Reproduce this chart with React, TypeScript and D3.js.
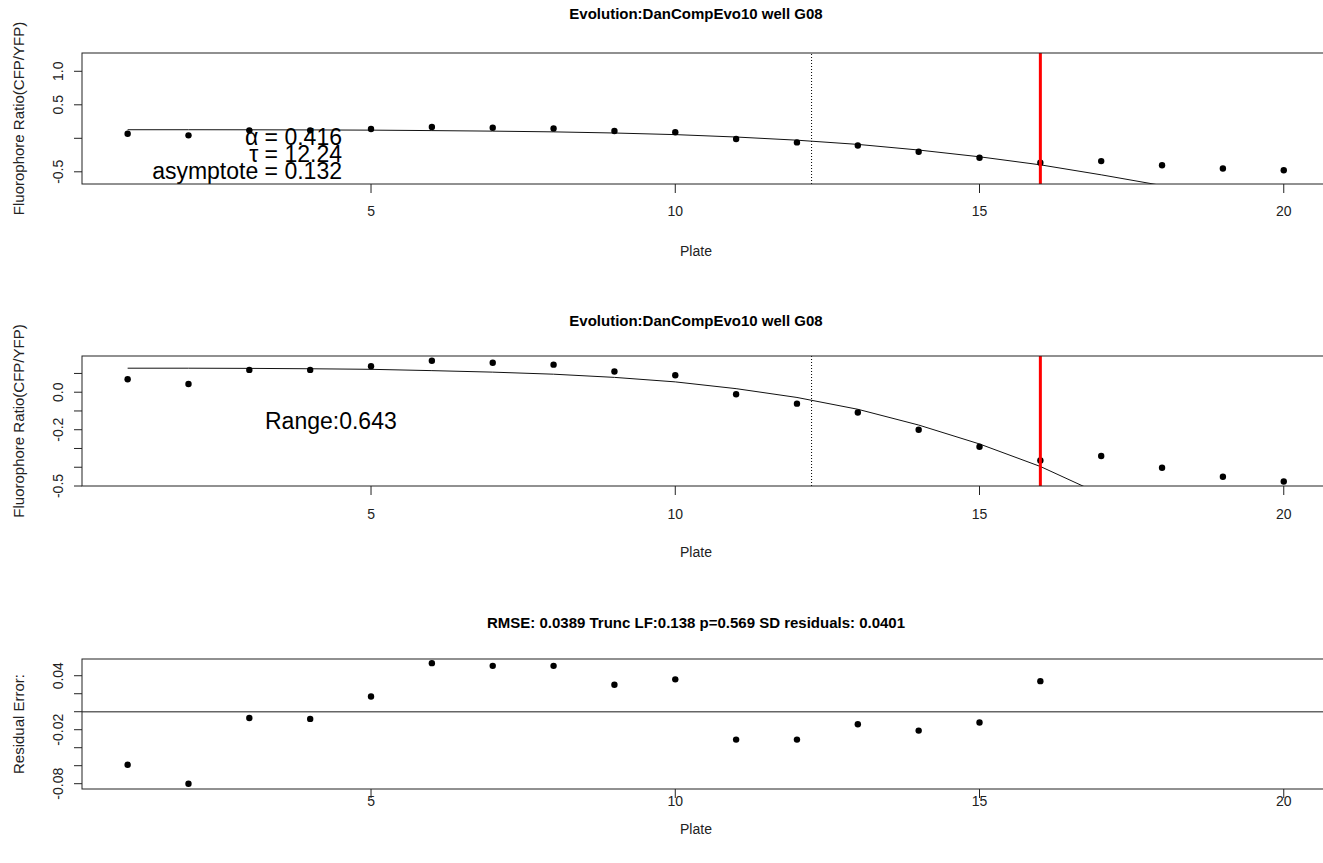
import React from 'react';
import * as d3 from 'd3';

// plate numbers and measured fluorophore ratio
const plates = [1, 2, 3, 4, 5, 6, 7, 8, 9, 10, 11, 12, 13, 14, 15, 16, 17, 18, 19, 20];
const ratio = [0.069, 0.044, 0.119, 0.119, 0.138, 0.168, 0.157, 0.147, 0.110, 0.090,
  -0.011, -0.061, -0.108, -0.200, -0.291, -0.364, -0.340, -0.403, -0.451, -0.476];

// fitted curve, read at each plate
const fitPlates = [1, 2, 3, 4, 5, 6, 7, 8, 9, 10, 11, 12, 13, 14, 15, 16, 17, 18];
const fitRatio = [0.128, 0.128, 0.127, 0.125, 0.122, 0.115, 0.107, 0.096, 0.079, 0.055,
  0.019, -0.028, -0.091, -0.175, -0.276, -0.396, -0.545, -0.705];

// residuals of the truncated fit
const residPlates = [1, 2, 3, 4, 5, 6, 7, 8, 9, 10, 11, 12, 13, 14, 15, 16];
const residuals = [-0.059, -0.080, -0.007, -0.008, 0.017, 0.054, 0.051, 0.051, 0.030, 0.036,
  -0.031, -0.031, -0.014, -0.021, -0.012, 0.034];

const xTicks = [5, 10, 15, 20];
const topTicks = [-0.5, 0, 0.5, 1.0];
const topTickLabels = ['-0.5', '', '0.5', '1.0'];
const midTicks = [0.1, 0, -0.1, -0.2, -0.3, -0.4, -0.5];
const midTickLabels = ['', '0.0', '', '-0.2', '', '', '-0.5'];
const resTicks = [0.04, 0.02, 0, -0.02, -0.04, -0.06, -0.08];
const resTickLabels = ['0.04', '', '', '-0.02', '', '', '-0.08'];

const tau = 12.24;
const truncPlate = 16;
const fitText = ['\u03b1 = 0.416', '\u03c4 = 12.24', 'asymptote = 0.132'];
const rangeText = 'Range:0.643';
const mainTitle = 'Evolution:DanCompEvo10 well G08';
const residTitle = 'RMSE: 0.0389 Trunc LF:0.138 p=0.569 SD residuals: 0.0401';
const ratioLabel = 'Fluorophore Ratio(CFP/YFP)';
const residLabel = 'Residual Error:';

const W = 1323;
const H = 863;
const font = '"Liberation Sans", Arial, sans-serif';
const x = d3.scaleLinear().domain([0.25, 20.76]).range([82, 1330]);

type PanelProps = {
  id: string;
  top: number;
  bottom: number;
  yDomain: [number, number];
  ticks: number[];
  tickLabels: string[];
  title: string;
  titleY: number;
  yLabel: string;
  tickLabelY: number;
  xLabelY: number;
  draw: (y: d3.ScaleLinear<number, number>) => React.ReactNode;
};

function Panel(p: PanelProps) {
  const { id, top, bottom, yDomain, ticks, tickLabels, title, titleY, yLabel, tickLabelY, xLabelY, draw } = p;
  const y = d3.scaleLinear().domain(yDomain).range([bottom, top]);
  const [x0, x1] = x.range();
  const midY = (top + bottom) / 2;
  return (
    <g>
      <defs>
        <clipPath id={id}>
          <rect x={x0} y={top} width={x1 - x0} height={bottom - top} />
        </clipPath>
      </defs>
      <text x={696} y={titleY} textAnchor="middle" fontSize={15} fontWeight="bold" fill="#000">{title}</text>
      <g clipPath={`url(#${id})`}>{draw(y)}</g>
      <rect x={x0} y={top} width={x1 - x0} height={bottom - top} fill="none" stroke="#222" strokeWidth={1} />
      {ticks.map((t, i) => (
        <g key={t}>
          <line x1={x0 - 8} x2={x0} y1={y(t)} y2={y(t)} stroke="#222" />
          {tickLabels[i] && (
            <text transform={`translate(63,${y(t)}) rotate(-90)`} textAnchor="middle" fontSize={14} fill="#222">
              {tickLabels[i]}
            </text>
          )}
        </g>
      ))}
      {xTicks.map(t => (
        <g key={t}>
          <line x1={x(t)} x2={x(t)} y1={bottom} y2={bottom + 9} stroke="#222" />
          <text x={x(t)} y={tickLabelY} textAnchor="middle" fontSize={14} fill="#222">{t}</text>
        </g>
      ))}
      <text x={696} y={xLabelY} textAnchor="middle" fontSize={14} fill="#222">Plate</text>
      <text transform={`translate(24,${midY}) rotate(-90)`} textAnchor="middle" fontSize={15} fill="#222">{yLabel}</text>
    </g>
  );
}

function fitAndPoints(y: d3.ScaleLinear<number, number>) {
  const line = d3.line<number>().x((_, i) => x(fitPlates[i])).y(d => y(d));
  const [t, b] = y.range();
  return (
    <g>
      <line x1={x(tau)} x2={x(tau)} y1={t} y2={b} stroke="#000" strokeDasharray="1,2" />
      <path d={line(fitRatio) || ''} fill="none" stroke="#111" strokeWidth={1} />
      {ratio.map((v, i) => (
        <circle key={i} cx={x(plates[i])} cy={y(v)} r={3.2} fill="#000" />
      ))}
      <line x1={x(truncPlate)} x2={x(truncPlate)} y1={t} y2={b} stroke="#ff0000" strokeWidth={3} />
    </g>
  );
}

export default function App() {
  return (
    <div style={{ position: 'fixed', left: 0, top: 0, background: '#fff' }}>
      <svg width={W} height={H} style={{ display: 'block', fontFamily: font }}>
        <rect width={W} height={H} fill="#fff" />
        <Panel
          id="p1" top={53} bottom={184} yDomain={[-0.682, 1.273]}
          ticks={topTicks} tickLabels={topTickLabels} title={mainTitle} titleY={19} yLabel={ratioLabel}
          tickLabelY={216} xLabelY={256}
          draw={y => (
            <g>
              {fitAndPoints(y)}
              {fitText.map((s, i) => (
                <text key={s} x={342} y={145 + i * 17} textAnchor="end" fontSize={23} fill="#000">{s}</text>
              ))}
            </g>
          )}
        />
        <Panel
          id="p2" top={356} bottom={486} yDomain={[-0.5, 0.193]}
          ticks={midTicks} tickLabels={midTickLabels} title={mainTitle} titleY={326} yLabel={ratioLabel}
          tickLabelY={519} xLabelY={557}
          draw={y => (
            <g>
              {fitAndPoints(y)}
              <text x={265} y={429} fontSize={23} fill="#000">{rangeText}</text>
            </g>
          )}
        />
        <Panel
          id="p3" top={659} bottom={789} yDomain={[-0.0859, 0.0586]}
          ticks={resTicks} tickLabels={resTickLabels} title={residTitle} titleY={628} yLabel={residLabel}
          tickLabelY={806} xLabelY={834}
          draw={y => (
            <g>
              <line x1={x.range()[0]} x2={x.range()[1]} y1={y(0)} y2={y(0)} stroke="#666" strokeWidth={1.6} />
              {residuals.map((v, i) => (
                <circle key={i} cx={x(residPlates[i])} cy={y(v)} r={3.2} fill="#000" />
              ))}
            </g>
          )}
        />
      </svg>
    </div>
  );
}
